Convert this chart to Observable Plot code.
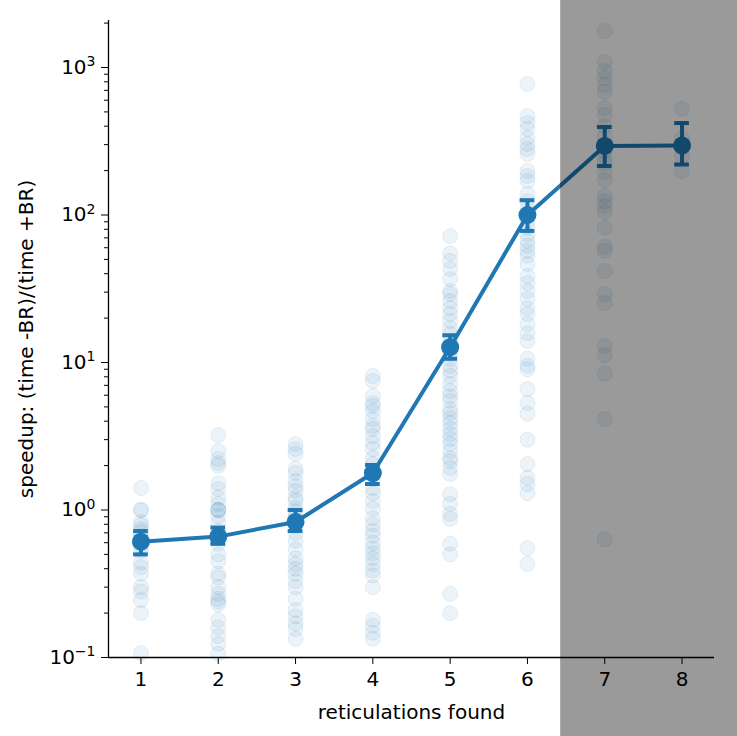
<!DOCTYPE html>
<html><head><meta charset="utf-8">
<script src="https://cdn.jsdelivr.net/npm/d3@7"></script>
<script src="https://cdn.jsdelivr.net/npm/@observablehq/plot@0.6"></script>
<style>
html,body{margin:0;padding:0;background:#fff;}
#chart svg{display:block;}
</style></head><body><div id="chart"></div>
<script>
const categories = [1, 2, 3, 4, 5, 6, 7, 8];

const pts1 = [1.41, 1.0, 1.0, 0.83, 0.79, 0.74, 0.71, 0.66, 0.61, 0.57, 0.53, 0.44, 0.41, 0.37, 0.30, 0.28, 0.245, 0.20, 0.107];
const pts2 = [3.22, 2.51, 2.22, 2.08, 1.99, 1.52, 1.39, 1.21, 1.10, 1.0, 1.0, 1.0, 0.91, 0.82, 0.72, 0.65, 0.59, 0.50, 0.45, 0.37, 0.35, 0.30, 0.27, 0.25, 0.24, 0.23, 0.18, 0.16, 0.14, 0.124, 0.106];
const pts3 = [2.80, 2.59, 2.40, 1.90, 1.78, 1.57, 1.45, 1.35, 1.21, 1.15, 1.03, 0.98, 0.91, 0.80, 0.70, 0.62, 0.54, 0.47, 0.43, 0.40, 0.37, 0.33, 0.30, 0.25, 0.21, 0.19, 0.17, 0.156, 0.134];
const pts4 = [8.1, 7.5, 5.93, 5.31, 5.07, 4.69, 4.14, 3.71, 3.54, 3.17, 2.85, 2.59, 2.25, 2.05, 1.78, 1.62, 1.41, 1.30, 1.15, 1.02, 0.88, 0.80, 0.72, 0.67, 0.60, 0.55, 0.51, 0.47, 0.43, 0.39, 0.36, 0.30, 0.18, 0.164, 0.147, 0.134];
const pts5 = [72, 55, 48.8, 43, 36.8, 30.5, 29.1, 26.1, 23.4, 21.3, 19.1, 17.1, 15.6, 14, 12.5, 11.4, 10.6, 9.5, 8.8, 8.1, 7.15, 6.4, 5.9, 5.5, 4.84, 4.55, 4.2, 3.89, 3.54, 3.27, 3.03, 2.8, 2.51, 2.25, 2.15, 1.93, 1.75, 1.28, 1.10, 0.94, 0.87, 0.59, 0.50, 0.27, 0.20];
const pts6 = [773, 469, 421, 383, 333, 303, 280, 259, 199, 184, 170, 139, 124, 111, 102, 91, 82, 74, 67, 62, 57, 53, 46.5, 38.6, 34.6, 30.5, 27, 23.4, 21.3, 18.2, 15.8, 14, 10.6, 9.5, 9.0, 6.6, 5.3, 4.5, 3.0, 2.05, 1.65, 1.5, 1.30, 0.55, 0.43];
const pts7 = [1767, 1089, 947, 849, 761, 682, 531, 476, 401, 343, 272, 243, 225, 196, 173, 135, 124, 115, 105, 82, 61, 57, 41.7, 29.1, 25.3, 12.9, 11.2, 8.4, 4.14, 0.63];
const pts8 = [523, 330, 285, 250, 199];
const pointsByCategory = [pts1, pts2, pts3, pts4, pts5, pts6, pts7, pts8];

const meanValues = [0.61, 0.66, 0.83, 1.78, 12.7, 100, 294, 296];
const ciLow = [0.50, 0.59, 0.72, 1.50, 10.6, 78, 215, 220];
const ciHigh = [0.72, 0.76, 1.00, 2.02, 15.3, 126, 395, 420];

const yTickValues = [0.1, 1, 10, 100, 1000];
const yTickBase = "10";
const yTickExponents = ["\u22121", "0", "1", "2", "3"];
const yMinorTicks = [0.2,0.3,0.4,0.5,0.6,0.7,0.8,0.9, 2,3,4,5,6,7,8,9, 20,30,40,50,60,70,80,90, 200,300,400,500,600,700,800,900, 2000];
const xDomain = [0.58, 8.42];
const yDomain = [0.1, 2083];
const xLabel = "reticulations found";
const yLabel = "speedup: (time -BR)/(time +BR)";
const shadeFrom = [6.43];
const shadeTo = [9];
const shadeBottom = [0.01];
const shadeTop = [10000];

const blue = "#1f77b4";
const capHalf = 0.095;

const points = pointsByCategory.flatMap((arr, i) => arr.map(v => ({cat: categories[i], v})));
const summary = categories.map((c, i) => ({cat: c, mean: meanValues[i], lo: ciLow[i], hi: ciHigh[i]}));
const shade = shadeFrom.map((x1, i) => ({x1, x2: shadeTo[i], y1: shadeBottom[i], y2: shadeTop[i]}));
const expFor = new Map(yTickValues.map((v, i) => [v, yTickExponents[i]]));

const chart = Plot.plot({
  width: 737,
  height: 736,
  marginLeft: 108,
  marginRight: 23,
  marginTop: 20,
  marginBottom: 79,
  style: {fontFamily: "'DejaVu Sans', sans-serif", fontSize: "20px", color: "black", background: "white", overflow: "visible"},
  x: {type: "linear", domain: xDomain},
  y: {type: "log", domain: yDomain},
  marks: [
    Plot.dot(points, {x: "cat", y: "v", r: 7.5, fill: blue, fillOpacity: 0.08, stroke: blue, strokeOpacity: 0.1, strokeWidth: 1}),
    Plot.line(summary, {x: "cat", y: "mean", stroke: blue, strokeWidth: 4}),
    Plot.ruleX(summary, {x: "cat", y1: "lo", y2: "hi", stroke: blue, strokeWidth: 4}),
    Plot.ruleY(summary, {y: "lo", x1: d => d.cat - capHalf, x2: d => d.cat + capHalf, stroke: blue, strokeWidth: 4}),
    Plot.ruleY(summary, {y: "hi", x1: d => d.cat - capHalf, x2: d => d.cat + capHalf, stroke: blue, strokeWidth: 4}),
    Plot.dot(summary, {x: "cat", y: "mean", r: 9, fill: blue}),
    Plot.axisY({ticks: yMinorTicks, tickSize: 4, tickFormat: () => "", label: null, stroke: "black"}),
    Plot.axisY({ticks: yTickValues, tickSize: 7, tickPadding: 6, tickFormat: d => yTickBase + "^" + expFor.get(d), label: yLabel, labelAnchor: "center", labelArrow: "none", labelOffset: 90, stroke: "black"}),
    Plot.axisX({ticks: categories, tickSize: 7, tickPadding: 7, tickFormat: d => String(d), label: xLabel, labelAnchor: "center", labelArrow: "none", labelOffset: 61, stroke: "black"}),
    Plot.ruleX([xDomain[0]], {stroke: "black", strokeWidth: 1.3}),
    Plot.ruleY([yDomain[0]], {stroke: "black", strokeWidth: 1.3}),
    Plot.rect(shade, {x1: "x1", x2: "x2", y1: "y1", y2: "y2", fill: "black", fillOpacity: 0.395, clip: false})
  ]
});

// render the exponents as raised, smaller text (like mathtext)
const NS = "http://www.w3.org/2000/svg";
chart.querySelectorAll("text").forEach(t => {
  const s = t.textContent;
  if (s.startsWith(yTickBase + "^")) {
    const exp = s.slice(yTickBase.length + 1);
    while (t.firstChild) t.removeChild(t.firstChild);
    t.appendChild(document.createTextNode(yTickBase));
    const sup = document.createElementNS(NS, "tspan");
    sup.setAttribute("font-size", "0.7em");
    sup.setAttribute("dy", "-0.55em");
    sup.textContent = exp;
    t.appendChild(sup);
  }
});
document.getElementById("chart").appendChild(chart);
</script>
</body></html>
